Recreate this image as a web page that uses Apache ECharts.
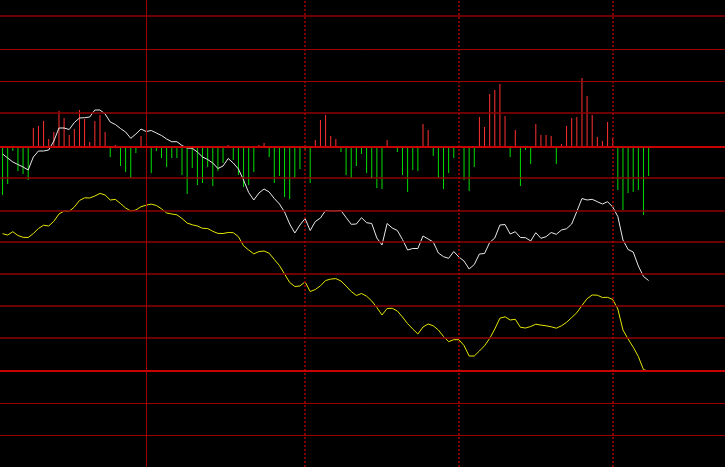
<!DOCTYPE html>
<html>
<head>
<meta charset="utf-8">
<script src="https://cdn.jsdelivr.net/npm/echarts@6/dist/echarts.min.js"></script>
<style>html,body{margin:0;padding:0;background:#000;}#c{width:725px;height:467px;}</style>
</head>
<body>
<div id="c"></div>
<script>
// MACD histogram bars
const hist = [-0.48,-0.37,-0.04,-0.24,-0.27,-0.33,0.19,0.21,0.26,0.08,
0.15,0.36,0.29,0.12,0.18,0.37,0.28,0.05,0.26,0.32,
0.15,-0.10,0.02,-0.19,-0.25,-0.31,-0.06,0.11,0,-0.26,
-0.04,-0.11,-0.20,-0.11,-0.11,-0.28,-0.47,-0.21,-0.38,-0.36,
-0.20,-0.39,-0.24,-0.16,0.02,-0.13,-0.28,-0.40,-0.38,-0.25,
0.02,0.04,-0.10,-0.36,-0.29,-0.50,-0.52,-0.31,-0.22,-0.03,
-0.36,0.07,0.27,0.32,0.11,0.08,-0.05,-0.28,-0.31,-0.19,
-0.07,-0.26,-0.32,-0.41,-0.42,0.07,0.01,-0.05,-0.28,-0.45,
-0.23,-0.24,0.23,0.17,-0.09,-0.31,-0.42,-0.26,-0.11,-0.01,
-0.33,-0.44,-0.20,0.30,0.20,0.53,0.57,0.63,0.31,-0.10,
0.17,-0.39,-0.03,-0.17,0.23,0.12,0.12,0.11,-0.17,0.03,
0.21,0.29,0.30,0.69,0.51,0.32,0.10,0.06,0.25,0.09,
-0.43,-0.63,-0.46,-0.45,-0.43,-0.68,-0.29];

// white line
const dif = [-0.07,-0.11,-0.15,-0.175,-0.20,-0.23,-0.10,-0.04,-0.04,-0.03,
0.06,0.19,0.19,0.175,0.245,0.29,0.293,0.30,0.37,0.37,
0.33,0.25,0.225,0.185,0.15,0.087,0.13,0.18,0.155,0.165,
0.14,0.115,0.08,0.053,0.053,0.015,-0.01,-0.013,-0.05,-0.10,
-0.125,-0.16,-0.215,-0.19,-0.115,-0.16,-0.22,-0.33,-0.455,-0.53,
-0.46,-0.42,-0.45,-0.515,-0.57,-0.65,-0.77,-0.86,-0.78,-0.715,
-0.835,-0.745,-0.71,-0.635,-0.64,-0.64,-0.635,-0.705,-0.773,-0.77,
-0.707,-0.757,-0.765,-0.91,-0.98,-0.765,-0.81,-0.835,-0.925,-1.03,
-1.015,-1.015,-0.89,-0.92,-0.95,-1.06,-1.097,-1.113,-1.045,-1.10,
-1.14,-1.22,-1.175,-1.07,-1.065,-0.955,-0.91,-0.78,-0.775,-0.87,
-0.847,-0.905,-0.907,-0.94,-0.857,-0.913,-0.897,-0.855,-0.873,-0.83,
-0.817,-0.77,-0.645,-0.515,-0.53,-0.523,-0.547,-0.57,-0.547,-0.60,
-0.695,-0.93,-1.025,-1.05,-1.19,-1.295,-1.335];

// yellow line
const dea = [-0.867,-0.88,-0.847,-0.885,-0.903,-0.905,-0.865,-0.815,-0.782,-0.79,
-0.743,-0.67,-0.64,-0.643,-0.60,-0.535,-0.508,-0.51,-0.49,-0.464,
-0.48,-0.53,-0.524,-0.565,-0.61,-0.64,-0.63,-0.597,-0.582,-0.571,
-0.585,-0.618,-0.66,-0.67,-0.678,-0.715,-0.76,-0.778,-0.79,-0.813,
-0.815,-0.843,-0.864,-0.865,-0.855,-0.857,-0.897,-0.988,-1.03,-1.069,
-1.046,-1.04,-1.062,-1.125,-1.185,-1.27,-1.355,-1.395,-1.39,-1.348,
-1.445,-1.425,-1.388,-1.335,-1.321,-1.316,-1.34,-1.39,-1.445,-1.485,
-1.465,-1.492,-1.54,-1.605,-1.68,-1.615,-1.613,-1.64,-1.70,-1.767,
-1.82,-1.87,-1.80,-1.77,-1.788,-1.83,-1.895,-1.947,-1.927,-1.927,
-1.985,-2.09,-2.09,-2.04,-1.988,-1.915,-1.82,-1.712,-1.698,-1.73,
-1.723,-1.803,-1.81,-1.795,-1.772,-1.781,-1.788,-1.798,-1.812,-1.788,
-1.753,-1.705,-1.657,-1.585,-1.517,-1.48,-1.482,-1.505,-1.503,-1.525,
-1.62,-1.83,-1.92,-2.002,-2.095,-2.227,-2.24];

// period separators (bar index), first is solid
const periodMarks = [28, 59, 89, 119];
// horizontal grid levels (heavier and lighter rules)
const gridLevels = [1.31, 0.34, -0.31, -0.64, -0.95, -1.27, -1.59, -1.91];
const thinGridLevels = [0.98, 0.66, -2.56, -2.88];
// emphasised horizontal reference levels
const refLevels = [0, -2.24];

const chart = echarts.init(document.getElementById('c'), null, {renderer: 'canvas'});

const gridMarks = [];
gridLevels.forEach(v => {
  gridMarks.push({yAxis: v, lineStyle: {color: '#900000', width: 1.6, type: 'solid'}});
});
thinGridLevels.forEach(v => {
  gridMarks.push({yAxis: v, lineStyle: {color: '#a00000', width: 1, type: 'solid'}});
});
periodMarks.forEach((p, k) => {
  gridMarks.push({xAxis: p, lineStyle: {color: '#a00000', width: k === 0 ? 1 : 1.6, type: k === 0 ? 'solid' : [2, 2]}});
});
const refMarks = refLevels.map(v => ({yAxis: v, lineStyle: {color: '#c80000', width: 2, type: 'solid'}}));

chart.setOption({
  backgroundColor: '#000000',
  animation: false,
  grid: {left: 0, top: 0, width: 725, height: 467, containLabel: false},
  xAxis: {
    type: 'value', min: -0.5, max: 140.9,
    axisLine: {show: false}, axisTick: {show: false}, axisLabel: {show: false},
    splitLine: {show: false}
  },
  yAxis: {
    type: 'value', min: -3.2, max: 1.47, interval: 0.32,
    axisLine: {show: false}, axisTick: {show: false}, axisLabel: {show: false},
    splitLine: {show: false}
  },
  series: [
    {
      type: 'line',
      data: [],
      markLine: {
        silent: true,
        symbol: ['none', 'none'],
        label: {show: false},
        animation: false,
        data: gridMarks
      },
      z: 1
    },
    {
      type: 'bar',
      barWidth: 1,
      data: hist.map((v, i) => [i, v]),
      itemStyle: {
        color: p => (p.value[1] >= 0 ? '#ff3030' : '#00dd00')
      },
      markLine: {
        silent: true,
        symbol: ['none', 'none'],
        label: {show: false},
        animation: false,
        data: refMarks
      },
      z: 2
    },
    {
      type: 'line',
      data: dif.map((v, i) => [i, v]),
      symbol: 'none',
      lineStyle: {color: '#e8e8e8', width: 1},
      z: 3
    },
    {
      type: 'line',
      data: dea.map((v, i) => [i, v]),
      symbol: 'none',
      lineStyle: {color: '#e6e600', width: 1},
      z: 3
    }
  ]
});
</script>
</body>
</html>
